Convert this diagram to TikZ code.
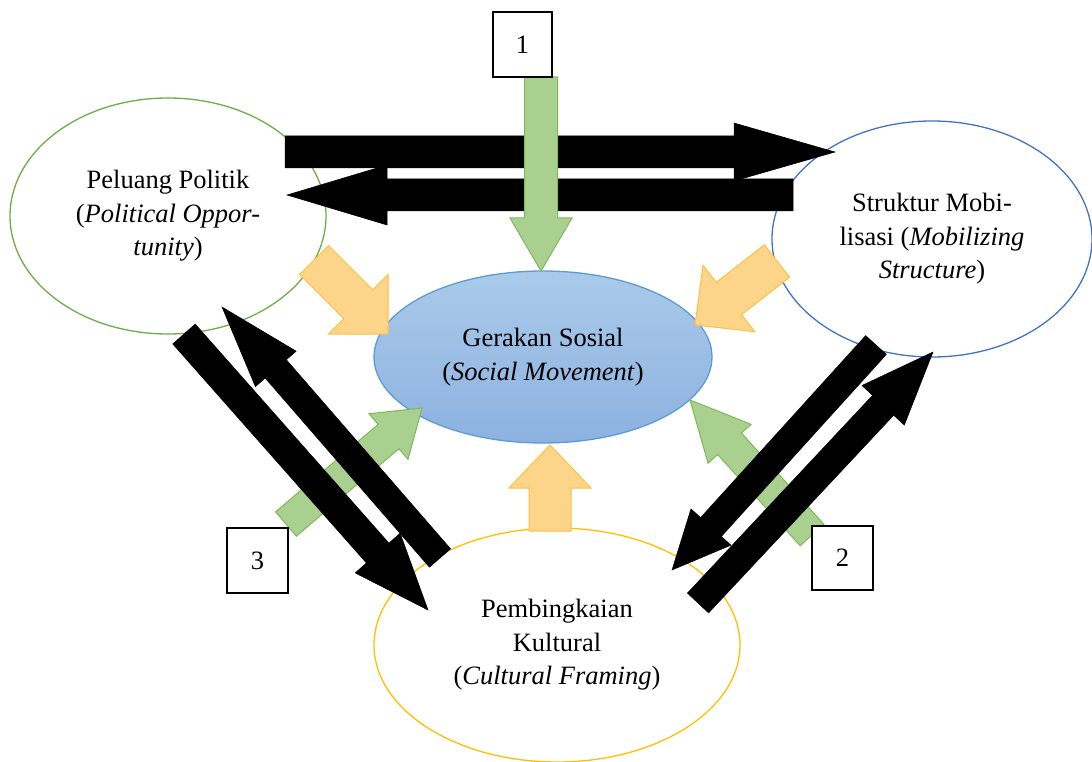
\documentclass[tikz,border=0pt]{standalone}
\usepackage{fontspec}
\setmainfont{Liberation Serif}
\usetikzlibrary{calc,shapes.geometric}
\definecolor{pgreen}{HTML}{70AD47}
\definecolor{pblue}{HTML}{4472C4}
\definecolor{porange}{HTML}{FFC000}
\definecolor{gtop}{HTML}{AACAEA}
\definecolor{gbot}{HTML}{8DB2E0}
\definecolor{gline}{HTML}{5B9BD5}
\definecolor{ofill}{HTML}{FDD58A}
\definecolor{oline}{HTML}{FBC13F}
\definecolor{grfill}{HTML}{A9D08E}
\definecolor{grline}{HTML}{7DB85B}
\newcommand{\blockarr}[6]{%
  \coordinate (ba-h) at ($(#3)!#6!(#2)$);
  \filldraw[#1] ($(#2)!#4!90:(#3)$) -- ($(ba-h)!#4!-90:(#2)$) -- ($(ba-h)!#5!-90:(#2)$) -- (#3) -- ($(ba-h)!#5!90:(#2)$) -- ($(ba-h)!#4!90:(#2)$) -- ($(#2)!#4!-90:(#3)$) -- cycle;
}
\tikzset{
  txt/.style={font=\fontsize{26.5}{33.5}\selectfont},
  concept/.style={ellipse, txt, align=center, inner sep=0pt, line width=1.3pt, fill=white},
  numbox/.style={draw=black, fill=white, line width=1.2pt, txt, inner sep=0pt},
  blackarr/.style={fill=black, draw=black, line width=0.5pt},
  orangearr/.style={fill=ofill, draw=oline, line width=1pt},
  greenarr/.style={fill=grfill, draw=grline, line width=1pt},
}
\begin{document}
\begin{tikzpicture}[x=1pt,y=-1pt]
\useasboundingbox (0,0) rectangle (1092,762);
% concepts
\node[concept, draw=pgreen, minimum width=316pt, minimum height=236pt] (pel) at (168,216)
  {Peluang Politik\\(\textit{Political Oppor-}\\\textit{tunity})};
\node[concept, draw=pblue, minimum width=320pt, minimum height=236pt] (str) at (932,239)
  {Struktur Mobi-\\lisasi (\textit{Mobilizing}\\\textit{Structure})};
\node[concept, draw=porange, minimum width=366pt, minimum height=234pt] (pem) at (557,645)
  {Pembingkaian\\Kultural\\(\textit{Cultural Framing})};
\node[concept, draw=gline, top color=gtop, bottom color=gbot, minimum width=338pt, minimum height=172pt] (ger) at (543,357)
  {Gerakan Sosial\\(\textit{Social Movement})};
% arrow end points
\coordinate (o1s) at (314,260); \coordinate (o1t) at (388,334);
\coordinate (o2s) at (777,261); \coordinate (o2t) at (695,325);
\coordinate (o3s) at (550,531); \coordinate (o3t) at (550,445);
\coordinate (g1s) at (541,77);  \coordinate (g1t) at (541,271);
\coordinate (g2s) at (812,535); \coordinate (g2t) at (690,400);
\coordinate (g3s) at (286,524); \coordinate (g3t) at (422,408);
\coordinate (hts) at (285,152); \coordinate (htt) at (835,152);
\coordinate (hbs) at (793,195); \coordinate (hbt) at (287,195);
\coordinate (das) at (184,334); \coordinate (dat) at (428,610);
\coordinate (dbs) at (440,558); \coordinate (dbt) at (222,307);
\coordinate (dcs) at (876,345); \coordinate (dct) at (672,570);
\coordinate (dds) at (698,603); \coordinate (ddt) at (933,352);
% orange arrows
\blockarr{orangearr}{o1s}{o1t}{20.5pt}{42pt}{42pt}
\blockarr{orangearr}{o2s}{o2t}{20.5pt}{42pt}{43pt}
\blockarr{orangearr}{o3s}{o3t}{21pt}{41pt}{43pt}
% green arrows 2 and 3
\blockarr{greenarr}{g2s}{g2t}{16pt}{29pt}{59pt}
\blockarr{greenarr}{g3s}{g3t}{16pt}{30pt}{44pt}
% black arrows
\blockarr{blackarr}{hts}{htt}{16pt}{29pt}{101pt}
\blockarr{blackarr}{hbs}{hbt}{16pt}{30pt}{100pt}
\blockarr{blackarr}{das}{dat}{15pt}{30pt}{76pt}
\blockarr{blackarr}{dbs}{dbt}{14pt}{27pt}{82pt}
\blockarr{blackarr}{dcs}{dct}{14pt}{27pt}{58pt}
\blockarr{blackarr}{dds}{ddt}{14.5pt}{29pt}{73pt}
% green arrow 1
\blockarr{greenarr}{g1s}{g1t}{16.5pt}{31pt}{53pt}
% number boxes
\node[numbox, minimum width=59pt, minimum height=65pt] (b1) at (522.5,44.5) {1};
\node[numbox, minimum width=61pt, minimum height=64pt] (b2) at (842.5,558) {2};
\node[numbox, minimum width=61pt, minimum height=65pt] (b3) at (257.5,560.5) {3};
\end{tikzpicture}
\end{document}
